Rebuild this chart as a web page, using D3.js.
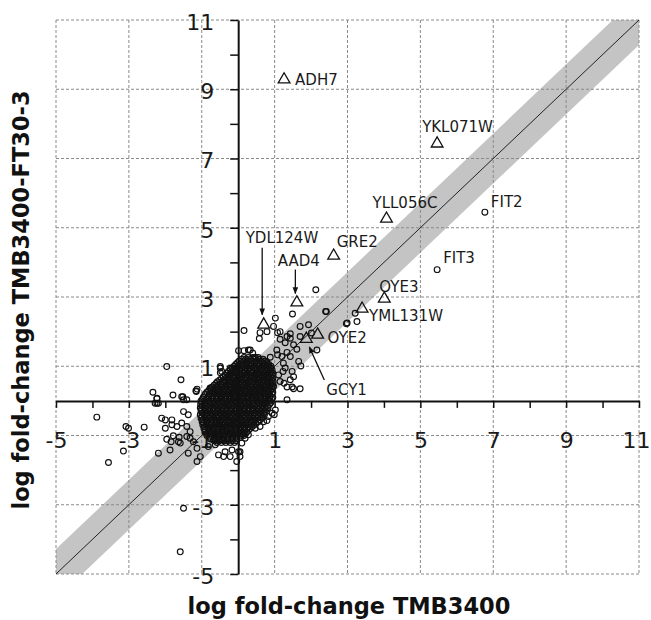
<!DOCTYPE html>
<html>
<head>
<meta charset="utf-8">
<script src="https://cdn.jsdelivr.net/npm/d3@7"></script>
<style>
  body { margin: 0; background: #fff; }
  text { font-family: "DejaVu Sans", Verdana, sans-serif; }
</style>
</head>
<body>
<svg id="chart" width="651" height="620"></svg>
<script>
// axis ticks (every integer) and the labelled ones
const axisTicks = [-5, -4, -3, -2, -1, 0, 1, 2, 3, 4, 5, 6, 7, 8, 9, 10, 11];
const xTickLabels = [-5, -3, -1, 1, 3, 5, 7, 9, 11];
const yTickLabels = [-5, -3, 1, 3, 5, 7, 9, 11]; // -1 sits under the x label / the cloud
const gridValues = [-5, -3, -1, 1, 3, 5, 7, 9, 11];

// half width of the grey band around y = x (log fold-change units)
const bandHalfWidth = 0.72;

// dense core of the cloud, read row by row: [y, [x, x, ...]]
const coreRows = [
  [1.25, [0.16, 0.28, 0.4, 0.55]],
  [1.2, [0.09, 0.21, 0.34, 0.46, 0.58, 0.68]],
  [1.15, [0.03, 0.15, 0.27, 0.36, 0.5, 0.61, 0.72]],
  [1.1, [-0.02, 0.1, 0.22, 0.33, 0.44, 0.56, 0.67, 0.79]],
  [1.05, [-0.07, 0.05, 0.16, 0.29, 0.38, 0.51, 0.6, 0.74, 0.84]],
  [1.0, [-0.11, 0.0, 0.13, 0.24, 0.36, 0.47, 0.57, 0.7, 0.82, 0.9]],
  [0.95, [-0.16, -0.05, 0.09, 0.18, 0.31, 0.43, 0.52, 0.66, 0.78, 0.88]],
  [0.9, [-0.22, -0.09, 0.03, 0.15, 0.26, 0.37, 0.49, 0.6, 0.73, 0.84, 0.93]],
  [0.85, [-0.27, -0.14, -0.03, 0.1, 0.2, 0.33, 0.42, 0.55, 0.68, 0.79, 0.9]],
  [0.8, [-0.31, -0.19, -0.07, 0.05, 0.16, 0.28, 0.39, 0.52, 0.63, 0.75, 0.87, 0.95]],
  [0.75, [-0.36, -0.25, -0.12, 0.01, 0.11, 0.24, 0.35, 0.47, 0.58, 0.71, 0.81, 0.93]],
  [0.7, [-0.41, -0.28, -0.16, -0.04, 0.08, 0.2, 0.31, 0.43, 0.55, 0.66, 0.79, 0.9]],
  [0.65, [-0.46, -0.33, -0.22, -0.1, 0.03, 0.15, 0.25, 0.38, 0.5, 0.61, 0.74, 0.85, 0.95]],
  [0.6, [-0.51, -0.39, -0.27, -0.15, -0.03, 0.1, 0.21, 0.34, 0.45, 0.58, 0.69, 0.81, 0.92]],
  [0.55, [-0.57, -0.44, -0.34, -0.2, -0.08, 0.05, 0.16, 0.29, 0.4, 0.53, 0.64, 0.75, 0.87, 0.96]],
  [0.5, [-0.61, -0.49, -0.37, -0.24, -0.12, 0.0, 0.12, 0.24, 0.36, 0.48, 0.6, 0.71, 0.83, 0.94]],
  [0.45, [-0.66, -0.55, -0.42, -0.29, -0.18, -0.06, 0.07, 0.18, 0.31, 0.42, 0.54, 0.67, 0.78, 0.9]],
  [0.4, [-0.71, -0.58, -0.46, -0.34, -0.22, -0.1, 0.02, 0.14, 0.26, 0.38, 0.5, 0.62, 0.74, 0.86, 0.96]],
  [0.35, [-0.76, -0.63, -0.52, -0.39, -0.26, -0.15, -0.02, 0.09, 0.22, 0.33, 0.44, 0.57, 0.7, 0.81, 0.93]],
  [0.3, [-0.81, -0.69, -0.56, -0.44, -0.32, -0.2, -0.08, 0.05, 0.17, 0.29, 0.41, 0.53, 0.65, 0.77, 0.89]],
  [0.25, [-0.86, -0.73, -0.62, -0.49, -0.37, -0.26, -0.13, 0.0, 0.11, 0.24, 0.37, 0.48, 0.6, 0.71, 0.84, 0.95]],
  [0.2, [-0.9, -0.77, -0.65, -0.52, -0.4, -0.28, -0.16, -0.04, 0.08, 0.2, 0.32, 0.45, 0.57, 0.69, 0.81, 0.93]],
  [0.15, [-0.93, -0.8, -0.7, -0.57, -0.44, -0.33, -0.2, -0.09, 0.04, 0.15, 0.28, 0.41, 0.52, 0.63, 0.76, 0.88]],
  [0.1, [-0.96, -0.84, -0.72, -0.6, -0.48, -0.36, -0.23, -0.11, 0.01, 0.13, 0.25, 0.37, 0.49, 0.61, 0.73, 0.86, 0.95]],
  [0.05, [-0.98, -0.87, -0.74, -0.61, -0.5, -0.38, -0.25, -0.14, -0.02, 0.1, 0.23, 0.34, 0.45, 0.58, 0.7, 0.82, 0.92]],
  [0.0, [-1.02, -0.92, -0.8, -0.68, -0.56, -0.44, -0.32, -0.2, -0.08, 0.04, 0.16, 0.28, 0.4, 0.52, 0.64, 0.76, 0.88]],
  [-0.05, [-1.0, -0.89, -0.77, -0.64, -0.53, -0.4, -0.29, -0.17, -0.04, 0.07, 0.19, 0.3, 0.43, 0.56, 0.67, 0.79, 0.9]],
  [-0.1, [-1.03, -0.93, -0.81, -0.69, -0.57, -0.45, -0.33, -0.21, -0.09, 0.03, 0.15, 0.27, 0.39, 0.51, 0.62, 0.74, 0.86]],
  [-0.15, [-0.99, -0.86, -0.75, -0.63, -0.5, -0.39, -0.27, -0.14, -0.03, 0.09, 0.22, 0.33, 0.45, 0.57, 0.68, 0.8]],
  [-0.2, [-1.04, -0.93, -0.82, -0.7, -0.58, -0.46, -0.34, -0.22, -0.1, 0.02, 0.14, 0.26, 0.38, 0.5, 0.61, 0.72, 0.82]],
  [-0.25, [-1.01, -0.9, -0.78, -0.65, -0.54, -0.41, -0.3, -0.18, -0.05, 0.06, 0.17, 0.3, 0.42, 0.55, 0.66, 0.77]],
  [-0.3, [-1.02, -0.91, -0.8, -0.68, -0.56, -0.44, -0.32, -0.2, -0.08, 0.04, 0.16, 0.28, 0.4, 0.52, 0.64, 0.74]],
  [-0.35, [-0.98, -0.85, -0.74, -0.62, -0.49, -0.38, -0.26, -0.13, -0.02, 0.1, 0.23, 0.34, 0.46, 0.58, 0.7]],
  [-0.4, [-1.04, -0.93, -0.82, -0.7, -0.58, -0.46, -0.34, -0.22, -0.1, 0.02, 0.14, 0.27, 0.39, 0.5, 0.62, 0.72]],
  [-0.45, [-1.0, -0.88, -0.76, -0.63, -0.52, -0.4, -0.28, -0.16, -0.04, 0.08, 0.21, 0.32, 0.44, 0.55, 0.68]],
  [-0.5, [-1.02, -0.91, -0.79, -0.67, -0.55, -0.43, -0.31, -0.19, -0.07, 0.05, 0.17, 0.29, 0.41, 0.53, 0.65]],
  [-0.55, [-0.97, -0.85, -0.72, -0.61, -0.49, -0.36, -0.25, -0.13, 0.0, 0.11, 0.23, 0.35, 0.47, 0.6]],
  [-0.6, [-0.99, -0.88, -0.76, -0.64, -0.52, -0.41, -0.29, -0.17, -0.05, 0.07, 0.19, 0.31, 0.43, 0.55]],
  [-0.65, [-0.95, -0.82, -0.71, -0.59, -0.46, -0.35, -0.23, -0.1, 0.01, 0.13, 0.26, 0.37, 0.49]],
  [-0.7, [-0.97, -0.86, -0.74, -0.62, -0.5, -0.38, -0.26, -0.14, -0.02, 0.1, 0.22, 0.33, 0.44]],
  [-0.75, [-0.92, -0.8, -0.67, -0.56, -0.44, -0.31, -0.2, -0.08, 0.05, 0.16, 0.28, 0.38]],
  [-0.8, [-0.94, -0.83, -0.71, -0.59, -0.47, -0.35, -0.23, -0.11, 0.01, 0.12, 0.23, 0.33]],
  [-0.85, [-0.9, -0.77, -0.66, -0.54, -0.41, -0.3, -0.18, -0.05, 0.06, 0.18, 0.28]],
  [-0.9, [-0.91, -0.79, -0.67, -0.55, -0.43, -0.31, -0.19, -0.07, 0.04, 0.15, 0.24]],
  [-0.95, [-0.85, -0.73, -0.6, -0.49, -0.37, -0.24, -0.13, -0.01, 0.1, 0.19]],
  [-1.0, [-0.86, -0.74, -0.62, -0.5, -0.38, -0.26, -0.14, -0.02, 0.09, 0.16]],
  [-1.05, [-0.78, -0.65, -0.54, -0.42, -0.29, -0.18, -0.06, 0.07]],
  [-1.1, [-0.76, -0.64, -0.52, -0.4, -0.28, -0.16, -0.04]],
  [-1.15, [-0.64, -0.52, -0.39, -0.28, -0.16, -0.05]],
  [-1.2, [-0.58, -0.46, -0.34, -0.22, -0.1]]
];

// individually visible genes around the core: [x, y]
const scatterPoints = [
  [-1.96, 0.99], [-1.57, 0.61], [-2.34, 0.25], [-2.23, 0.06], [-2.23, -0.07], [-2.28, -0.07],
  [-2.19, -0.07], [-1.79, 0.17], [-1.52, 0.12], [-1.41, 0.03], [-1.5, 0.03], [-1.15, 0.27],
  [-0.74, 0.32], [-0.54, 0.32], [-0.77, 0.37], [-1.13, 0.34], [-0.49, 0.95], [-0.49, 0.81],
  [-0.22, 0.56], [-0.49, 0.99], [-0.45, 0.85], [-0.22, 0.95], [-0.17, 0.85],
  [0.01, 1.45], [0.28, 1.47], [0.16, 2.03], [0.58, 1.8], [0.6, 1.97], [0.79, 2.0],
  [1.02, 2.39], [0.97, 2.15], [1.08, 1.97], [1.15, 1.78], [1.29, 1.68], [1.34, 1.86],
  [1.49, 2.51], [2.13, 3.21], [1.7, 2.15], [1.93, 2.2], [2.01, 1.96], [2.16, 1.47],
  [2.4, 2.58], [1.43, 1.94], [1.43, 1.81], [1.52, 1.62], [1.61, 1.49], [0.33, 1.47],
  [0.4, 1.38], [0.47, 1.26], [0.16, 1.45], [1.06, 1.47], [1.08, 1.33], [1.2, 1.28],
  [1.34, 1.4], [1.43, 1.28], [0.88, 1.26], [0.77, 1.14], [1.66, 1.14], [1.72, 1.01],
  [1.24, 1.09], [1.29, 0.95], [1.23, 0.85], [1.48, 0.85], [1.52, 0.7], [1.11, 0.75],
  [1.15, 0.56], [1.26, 0.51], [1.43, 0.61], [1.34, 0.4], [1.48, 0.4], [0.97, 0.43],
  [1.7, 0.35], [1.34, 0.03], [1.52, 0.35], [1.02, -0.26], [0.93, -0.36], [0.83, -0.45],
  [0.7, -0.6], [0.6, -0.74], [0.47, -0.79], [0.28, -0.98], [0.19, -1.08], [0.1, -1.22],
  [0.05, -1.47], [-2.23, 0.08], [-1.16, 0.29], [-1.55, 0.12], [-2.1, -0.5], [-2.0, -0.55],
  [-1.82, -0.55], [-2.0, -0.79], [-1.82, -0.69], [-1.68, -0.74], [-1.5, -0.31], [-1.37, -0.4],
  [-1.55, -0.64], [-1.41, -0.74], [-1.32, -0.89], [-1.64, -1.18], [-1.87, -1.42], [-1.23, -1.18],
  [-1.13, -1.37], [-1.41, -1.03], [-1.32, -1.08], [-2.19, -1.51], [-1.04, -1.61], [-1.13, -1.75],
  [-0.82, -1.32], [-0.63, -1.27], [-0.68, -1.13], [-0.54, -1.56], [-0.4, -1.61], [-0.36, -1.47],
  [-0.22, -1.61], [-0.17, -1.42], [0.01, -1.47], [0.05, -1.61], [-0.04, -1.75], [-0.59, -1.08],
  [-0.45, -1.13], [-3.88, -0.47], [-3.08, -0.74], [-3.01, -0.79], [-2.58, -0.76], [-3.15, -1.45],
  [-3.56, -1.78], [-1.96, -1.11], [-1.84, -1.18], [-1.78, -1.01], [-1.62, -1.05], [-1.59, -1.22],
  [-1.37, -1.51], [-1.5, -3.1], [-1.59, -4.36], [0.79, -0.57], [0.99, -0.4],
  [3.26, 2.29], [2.97, 2.23], [3.21, 2.53], [2.99, 2.25], [2.42, 2.58], [1.15, 2.0], [1.7, 1.86]
];

// annotated genes
const geneNames = ["ADH7", "YKL071W", "YLL056C", "GRE2", "FIT2", "FIT3", "OYE3", "YML131W", "OYE2", "GCY1", "AAD4", "YDL124W"];
const geneX =     [1.26, 5.46, 4.07, 2.62, 6.77, 5.46, 4.01, 3.4, 2.18, 1.87, 1.61, 0.7];
const geneY =     [9.28, 7.43, 5.26, 4.19, 5.45, 3.79, 2.95, 2.66, 1.91, 1.79, 2.84, 2.2];
const geneMarker = ["triangle", "triangle", "triangle", "triangle", "circle", "circle", "triangle", "triangle", "triangle", "triangle", "triangle", "triangle"];

const svg = d3.select('#chart');
const margin = { top: 20, right: 12, bottom: 46, left: 56 };
const width = 651, height = 620;

const x = d3.scaleLinear().domain([-5, 11]).range([margin.left, width - margin.right]);
const y = d3.scaleLinear().domain([-5, 11]).range([height - margin.bottom, margin.top]);

svg.append('defs').append('clipPath').attr('id', 'plot-clip')
  .append('rect')
  .attr('x', x(-5)).attr('y', y(11))
  .attr('width', x(11) - x(-5)).attr('height', y(-5) - y(11));

svg.select('defs').append('marker')
  .attr('id', 'arrow')
  .attr('viewBox', '0 0 10 10')
  .attr('refX', 9).attr('refY', 5)
  .attr('markerWidth', 7).attr('markerHeight', 7)
  .attr('markerUnits', 'userSpaceOnUse')
  .attr('orient', 'auto')
  .append('path').attr('d', 'M0,1 L10,5 L0,9 Z').attr('fill', '#111');

// grey band around the diagonal
const band = [[-5 - bandHalfWidth, -5], [11, 11 + bandHalfWidth], [11 + bandHalfWidth, 11], [-5, -5 - bandHalfWidth]];
svg.append('path')
  .attr('clip-path', 'url(#plot-clip)')
  .attr('d', d3.line().x(d => x(d[0])).y(d => y(d[1]))(band) + 'Z')
  .attr('fill', '#c4c4c4');

// dashed grid
const grid = svg.append('g').attr('stroke', '#8a8a8a').attr('stroke-width', 1).attr('stroke-dasharray', '3,2');
grid.selectAll('.gv').data(gridValues).enter().append('line')
  .attr('x1', d => x(d)).attr('x2', d => x(d))
  .attr('y1', y(11)).attr('y2', y(-5));
grid.selectAll('.gh').data(gridValues).enter().append('line')
  .attr('y1', d => y(d)).attr('y2', d => y(d))
  .attr('x1', x(-5)).attr('x2', x(11));

// diagonal y = x
svg.append('line')
  .attr('x1', x(-5)).attr('y1', y(-5)).attr('x2', x(11)).attr('y2', y(11))
  .attr('stroke', '#111').attr('stroke-width', 0.9);

// axes crossing at the origin
const xAxis = svg.append('g')
  .attr('transform', `translate(0,${y(0)})`)
  .call(d3.axisBottom(x).tickValues(axisTicks)
    .tickFormat(d => xTickLabels.includes(d) ? d : '')
    .tickSize(7).tickSizeOuter(0).tickPadding(24));
const yAxis = svg.append('g')
  .attr('transform', `translate(${x(0)},0)`)
  .call(d3.axisLeft(y).tickValues(axisTicks)
    .tickFormat(d => yTickLabels.includes(d) ? d : '')
    .tickSize(8).tickSizeOuter(0).tickPadding(16));

[xAxis, yAxis].forEach(g => {
  g.attr('font-size', null);
  g.select('.domain').attr('stroke', '#111').attr('stroke-width', 2);
  g.selectAll('.tick line').attr('stroke', '#111').attr('stroke-width', 1.5);
  g.selectAll('.tick text')
    .attr('fill', '#1a1a1a')
    .style('font-size', '22px')
    .style('font-family', '"DejaVu Sans", Verdana, sans-serif');
});
xAxis.selectAll('.tick text').attr('dy', '0.72em')
  .attr('dx', d => d === 11 ? -3 : 0);
yAxis.selectAll('.tick text').attr('dy', '0.42em');

// points
const pts = [];
coreRows.forEach(([yy, xs]) => xs.forEach(xx => pts.push([xx, yy])));
scatterPoints.forEach(p => pts.push(p));

svg.append('g')
  .selectAll('circle').data(pts).enter().append('circle')
  .attr('cx', d => x(d[0])).attr('cy', d => y(d[1]))
  .attr('r', 2.9)
  .attr('fill', 'none').attr('stroke', '#111').attr('stroke-width', 1.15);

// annotated genes
const genes = geneNames.map((name, i) => ({ name, gx: geneX[i], gy: geneY[i], marker: geneMarker[i] }));

const tri = d3.symbol().type(d3.symbolTriangle).size(60);
const gm = svg.append('g');
gm.selectAll('path').data(genes.filter(d => d.marker === 'triangle')).enter().append('path')
  .attr('transform', d => `translate(${x(d.gx)},${y(d.gy)})`)
  .attr('d', tri)
  .attr('fill', 'none').attr('stroke', '#111').attr('stroke-width', 1.3);
gm.selectAll('circle').data(genes.filter(d => d.marker === 'circle')).enter().append('circle')
  .attr('cx', d => x(d.gx)).attr('cy', d => y(d.gy))
  .attr('r', 2.9)
  .attr('fill', 'none').attr('stroke', '#111').attr('stroke-width', 1.15);

// label placement in pixels relative to the marker, plus optional arrows
const labelLayout = {
  ADH7:    { dx: 11, dy: 5 },
  YKL071W: { dx: -15, dy: -12 },
  YLL056C: { dx: -14, dy: -11 },
  GRE2:    { dx: 3, dy: -9 },
  FIT2:    { dx: 6, dy: -5 },
  FIT3:    { dx: 6, dy: -7 },
  OYE3:    { dx: -5, dy: -7 },
  YML131W: { dx: 7, dy: 12 },
  OYE2:    { dx: 10, dy: 8 },
  GCY1:    { dx: 20, dy: 56, arrow: [18, 41, 3, 8] },
  AAD4:    { dx: -19, dy: -37, arrow: [-1.5, -33, -1.5, -9] },
  YDL124W: { dx: -18, dy: -82, arrow: [-1.5, -77, -1.5, -10] }
};

genes.forEach(d => {
  const L = labelLayout[d.name];
  const px = x(d.gx), py = y(d.gy);
  if (L.arrow) {
    svg.append('line')
      .attr('x1', px + L.arrow[0]).attr('y1', py + L.arrow[1])
      .attr('x2', px + L.arrow[2]).attr('y2', py + L.arrow[3])
      .attr('stroke', '#111').attr('stroke-width', 1.3)
      .attr('marker-end', 'url(#arrow)');
  }
  svg.append('text')
    .attr('x', px + L.dx).attr('y', py + L.dy)
    .attr('font-size', 15)
    .attr('fill', '#1a1a1a')
    .text(d.name);
});

// axis titles
svg.append('text')
  .attr('x', 349).attr('y', 614)
  .attr('text-anchor', 'middle')
  .attr('font-size', 22.5).attr('font-weight', 'bold')
  .attr('fill', '#111')
  .text('log fold-change TMB3400');

svg.append('text')
  .attr('transform', 'translate(29,300) rotate(-90)')
  .attr('text-anchor', 'middle')
  .attr('font-size', 22.5).attr('font-weight', 'bold')
  .attr('fill', '#111')
  .text('log fold-change TMB3400-FT30-3');
</script>
</body>
</html>
